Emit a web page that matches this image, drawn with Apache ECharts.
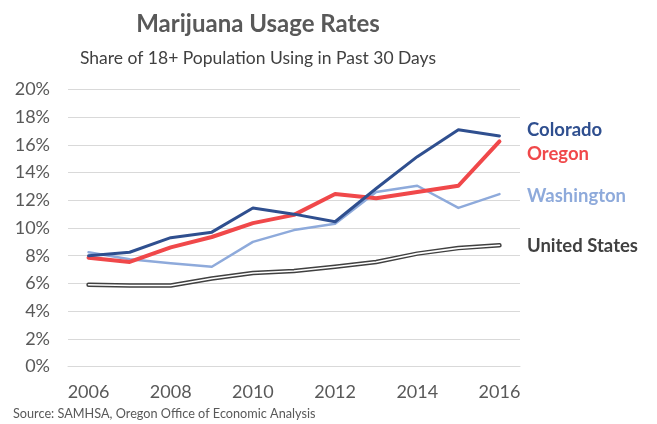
<!DOCTYPE html>
<html>
<head>
<meta charset="utf-8">
<script src="https://cdn.jsdelivr.net/npm/echarts@6/dist/echarts.min.js"></script>
<style>
  html, body { margin: 0; padding: 0; background: #fff; }
  #chart { width: 657px; height: 424px; }
</style>
</head>
<body>
<div id="chart"></div>
<script>
// Past-30-day marijuana use, share of population aged 18+ (percent)
const years = ['2006', '2007', '2008', '2009', '2010', '2011', '2012', '2013', '2014', '2015', '2016'];
const colorado = [8.0, 8.25, 9.3, 9.7, 11.45, 11.0, 10.45, 12.85, 15.15, 17.1, 16.65];
const oregon = [7.85, 7.55, 8.6, 9.35, 10.35, 10.95, 12.45, 12.15, 12.6, 13.05, 16.25];
const washington = [8.25, 7.75, 7.45, 7.2, 9.0, 9.85, 10.3, 12.6, 13.05, 11.45, 12.45];
const unitedStates = [5.9, 5.85, 5.85, 6.35, 6.75, 6.9, 7.2, 7.55, 8.15, 8.55, 8.75];

const FONT = 'Lato, "Open Sans", sans-serif';

const chart = echarts.init(document.getElementById('chart'), null, { renderer: 'canvas' });

function lineSeries(name, data, color, width, z) {
  return {
    name: name,
    type: 'line',
    data: data,
    symbol: 'none',
    z: z,
    lineStyle: { color: color, width: width, join: 'round', cap: 'round' },
    emphasis: { disabled: true }
  };
}

chart.setOption({
  animation: false,
  backgroundColor: '#ffffff',
  grid: { left: 68, right: 137, top: 89.5, bottom: 57.5, containLabel: false },
  xAxis: {
    type: 'category',
    data: years,
    boundaryGap: true,
    axisLine: { show: true, lineStyle: { color: '#d9d9d9', width: 1 } },
    axisTick: { show: false },
    axisLabel: {
      interval: 1,
      margin: 17,
      color: '#595959',
      fontSize: 18,
      fontFamily: FONT
    },
    splitLine: { show: false }
  },
  yAxis: {
    type: 'value',
    min: 0,
    max: 20,
    interval: 2,
    axisLine: { show: false },
    axisTick: { show: false },
    axisLabel: {
      formatter: '{value}%',
      margin: 18,
      color: '#595959',
      fontSize: 18,
      fontFamily: FONT
    },
    splitLine: { lineStyle: { color: '#d9d9d9', width: 1 } }
  },
  series: [
    // United States: dark outer stroke with a white core on top
    lineSeries('United States', unitedStates, '#404040', 4.5, 2),
    lineSeries('United States core', unitedStates, '#ffffff', 1.6, 3),
    lineSeries('Washington', washington, '#8eaadb', 2.5, 4),
    lineSeries('Oregon', oregon, '#f0484a', 4, 5),
    lineSeries('Colorado', colorado, '#2f4f8f', 3, 6)
  ],
  graphic: [
    {
      type: 'text', x: 258, y: 24,
      style: {
        text: 'Marijuana Usage Rates',
        textAlign: 'center', textVerticalAlign: 'middle',
        font: 'bold 24px ' + FONT, fill: '#595959'
      }
    },
    {
      type: 'text', x: 258, y: 58,
      style: {
        text: 'Share of 18+ Population Using in Past 30 Days',
        textAlign: 'center', textVerticalAlign: 'middle',
        font: '17.5px ' + FONT, fill: '#404040'
      }
    },
    {
      type: 'text', x: 527, y: 130,
      style: { text: 'Colorado', textVerticalAlign: 'middle', font: 'bold 18.5px ' + FONT, fill: '#2f4f8f' }
    },
    {
      type: 'text', x: 527, y: 154,
      style: { text: 'Oregon', textVerticalAlign: 'middle', font: 'bold 18.5px ' + FONT, fill: '#f0484a' }
    },
    {
      type: 'text', x: 527, y: 196,
      style: { text: 'Washington', textVerticalAlign: 'middle', font: 'bold 18.5px ' + FONT, fill: '#8eaadb' }
    },
    {
      type: 'text', x: 527, y: 246,
      style: { text: 'United States', textVerticalAlign: 'middle', font: 'bold 18.5px ' + FONT, fill: '#404040' }
    },
    {
      type: 'text', x: 13, y: 414,
      style: {
        text: 'Source: SAMHSA, Oregon Office of Economic Analysis',
        textVerticalAlign: 'middle', font: '12.7px ' + FONT, fill: '#595959'
      }
    }
  ]
});
</script>
</body>
</html>
